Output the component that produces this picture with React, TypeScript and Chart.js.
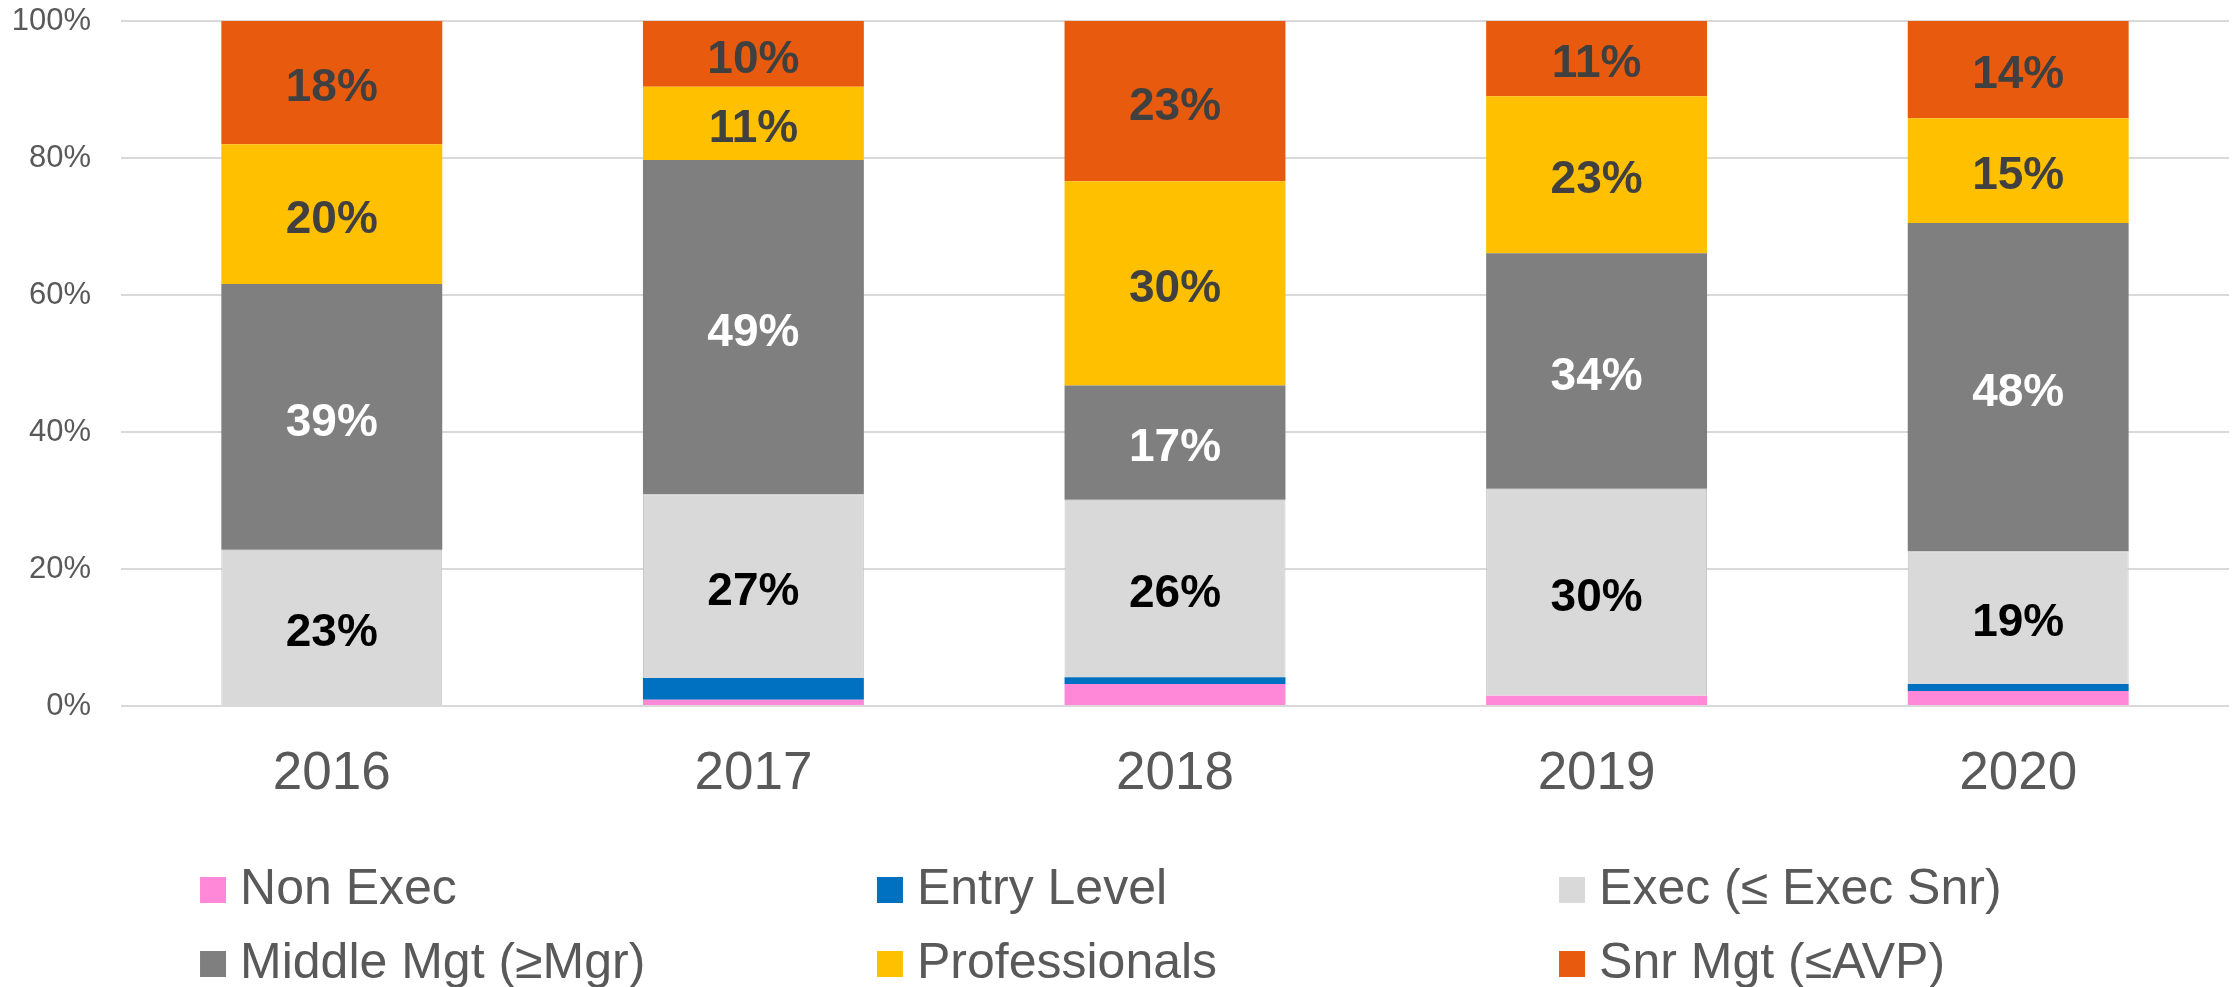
import React, { useEffect, useRef } from "react";
import { Chart, registerables } from "chart.js";

Chart.register(...registerables);

const years = ["2016", "2017", "2018", "2019", "2020"];
const nonExec = [0, 0.9, 3.2, 1.5, 2.2];
const entryLevel = [0, 3.2, 1.0, 0, 1.0];
const exec = [22.8, 26.8, 25.9, 30.2, 19.4];
const middleMgt = [38.8, 48.8, 16.7, 34.4, 47.9];
const professionals = [20.4, 10.7, 29.8, 22.9, 15.3];
const snrMgt = [18.0, 9.6, 23.4, 11.0, 14.2];
const yTicks = [0, 20, 40, 60, 80, 100];

const seriesNames = [
  "Non Exec",
  "Entry Level",
  "Exec (≤ Exec Snr)",
  "Middle Mgt (≥Mgr)",
  "Professionals",
  "Snr Mgt (≤AVP)",
];
const seriesColors = ["#FF88D8", "#0070C0", "#D9D9D9", "#7F7F7F", "#FFC000", "#E85B0E"];
const labelColors = [null, null, "#000000", "#FFFFFF", "#404040", "#404040"];

const FONT = '"Liberation Sans", Arial, Helvetica, sans-serif';

const segLabelPlugin = {
  id: "segLabels",
  afterDatasetsDraw(chart: any) {
    const ctx = chart.ctx;
    ctx.save();
    ctx.font = `bold 46px ${FONT}`;
    ctx.textAlign = "center";
    ctx.textBaseline = "middle";
    chart.data.datasets.forEach((ds: any, i: number) => {
      const color = labelColors[i];
      if (!color) return;
      const meta = chart.getDatasetMeta(i);
      meta.data.forEach((el: any, j: number) => {
        const v = ds.data[j];
        if (!v) return;
        const p = el.getProps(["x", "y", "base"], true);
        ctx.fillStyle = color;
        ctx.fillText(Math.round(v) + "%", p.x, (p.y + p.base) / 2 + 6);
      });
    });
    ctx.restore();
  },
};

const gridLegendPlugin = {
  id: "gridLegend",
  afterDraw(chart: any) {
    const ctx = chart.ctx;
    const w = chart.width;
    const colX = [0.0893, 0.3915, 0.696].map((f) => f * w);
    const rowY = [890, 964];
    ctx.save();
    ctx.font = `50px ${FONT}`;
    ctx.textAlign = "left";
    ctx.textBaseline = "middle";
    seriesNames.forEach((name, i) => {
      const col = i % 3;
      const row = Math.floor(i / 3);
      const x = colX[col];
      const y = rowY[row];
      ctx.fillStyle = seriesColors[i];
      ctx.fillRect(x, y - 13, 26, 26);
      ctx.fillStyle = "#595959";
      ctx.fillText(name, x + 40, y);
    });
    ctx.restore();
  },
};

export default function App() {
  const ref = useRef<HTMLCanvasElement | null>(null);

  useEffect(() => {
    document.body.style.margin = "0";
    const canvas = ref.current;
    if (!canvas) return;
    const datasets = [nonExec, entryLevel, exec, middleMgt, professionals, snrMgt].map((d, i) => ({
      label: seriesNames[i],
      data: d,
      backgroundColor: seriesColors[i],
      borderColor: i === 2 ? "#C4C4C4" : seriesColors[i],
      borderWidth: i === 2 ? 1 : 0,
      categoryPercentage: 1,
      barPercentage: 0.524,
    }));
    const chart = new Chart(canvas, {
      type: "bar",
      data: { labels: years, datasets },
      options: {
        responsive: false,
        animation: false,
        layout: { padding: { left: 0, right: 11, top: 21, bottom: 0 } },
        plugins: {
          legend: { display: false },
          tooltip: { enabled: false },
        },
        scales: {
          x: {
            stacked: true,
            grid: { display: false },
            border: { display: false },
            ticks: {
              color: "#595959",
              font: { family: FONT, size: 53 },
              padding: 29,
            },
            afterFit: (scale: any) => {
              scale.height = 281;
              scale.paddingLeft = 0;
              scale.paddingRight = 0;
            },
          },
          y: {
            stacked: true,
            min: 0,
            max: 100,
            grid: { color: "#D9D9D9", lineWidth: 2, drawTicks: false },
            border: { display: false },
            afterBuildTicks: (scale: any) => {
              scale.ticks = yTicks.map((v) => ({ value: v }));
            },
            ticks: {
              color: "#595959",
              font: { family: FONT, size: 31 },
              padding: 30,
              callback: (v: any) => v + "%",
            },
            afterFit: (scale: any) => {
              scale.width = 121;
              scale.paddingTop = 0;
              scale.paddingBottom = 0;
            },
          },
        },
      },
      plugins: [segLabelPlugin, gridLegendPlugin],
    });
    return () => chart.destroy();
  }, []);

  return (
    <div style={{ width: 2240, height: 987, background: "#ffffff" }}>
      <canvas ref={ref} width={2240} height={987} style={{ display: "block", width: 2240, height: 987 }} />
    </div>
  );
}
